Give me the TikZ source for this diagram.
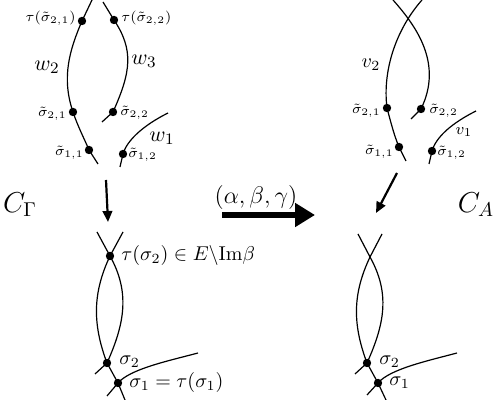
\documentclass[tikz,border=0pt]{standalone}
\usetikzlibrary{arrows.meta}
\begin{document}
\begin{tikzpicture}[x=0.5pt,y=0.5pt,
  crv/.style={line width=0.6pt},
  dot/.style={circle,fill=black,inner sep=0pt,minimum size=4.2pt},
  tinylbl/.style={font=\scriptsize,inner sep=0pt},
  taulbl/.style={font=\fontsize{7.5}{9}\selectfont,inner sep=0pt},
  wlbl/.style={font=\fontsize{11}{13}\selectfont,inner sep=0pt},
  lbl/.style={font=\normalsize,inner sep=0pt},
  biglbl/.style={font=\Large,inner sep=0pt},
  smallarrow/.style={line width=1.1pt,-{Triangle[length=5.5pt,width=4.8pt]}},
  bigarrow/.style={line width=3pt,-{Triangle[length=10pt,width=11.5pt]}}]
\useasboundingbox (0,0) rectangle (498,400);

% ---------- upper left ----------
\coordinate (w2a) at (92,400);
\coordinate (t21) at (82,379);
\coordinate (s21) at (73,288);
\coordinate (s11) at (89,250);
\coordinate (w2b) at (98,236);
\coordinate (w3a) at (103,398);
\coordinate (t22) at (114,380);
\coordinate (s22) at (113,288);
\coordinate (w3b) at (102,278);
\coordinate (w1a) at (168,287);
\coordinate (s12) at (123,246);
\coordinate (w1b) at (120,233);

\draw[crv] (w2a) -- (t21) .. controls +(-12,-28) and +(-12,35) .. (s21)
  .. controls +(5,-15) and +(-5,12) .. (s11) -- (w2b);
\draw[crv] (w3a) -- (t22) .. controls +(20,-30) and +(18,40) .. (s22) -- (w3b);
\draw[crv] (w1b) -- (s12) .. controls +(4,14) and +(-24,-12) .. (w1a);

\foreach \p in {t21,s21,s11,t22,s22,s12} \node[dot] (d\p) at (\p) {};

\node[taulbl,anchor=east] (lt21) at (76,382) {$\tau(\tilde\sigma_{2,1})$};
\node[taulbl,anchor=west] (lt22) at (121,382) {$\tau(\tilde\sigma_{2,2})$};
\node[wlbl] (lw2) at (47,333) {$w_2$};
\node[wlbl] (lw3) at (144,339) {$w_3$};
\node[tinylbl,anchor=east] (ls21) at (67,286) {$\tilde\sigma_{2,1}$};
\node[tinylbl,anchor=west] (ls22) at (120,287) {$\tilde\sigma_{2,2}$};
\node[tinylbl,anchor=east] (ls11) at (84,247) {$\tilde\sigma_{1,1}$};
\node[tinylbl,anchor=west] (ls12) at (128,245) {$\tilde\sigma_{1,2}$};
\node[wlbl] (lw1) at (162,262) {$w_1$};

% ---------- upper right ----------
\coordinate (v2a) at (422,400);
\coordinate (r21) at (387,292);
\coordinate (r11) at (399,253);
\coordinate (v2b) at (406,239);
\coordinate (v3a) at (393,400);
\coordinate (r22) at (421,291);
\coordinate (v3b) at (411,281);
\coordinate (v1a) at (476,289);
\coordinate (r12) at (432,249);
\coordinate (v1b) at (429,236);

\draw[crv] (v2a) .. controls +(-24,-27) and +(-5,40) .. (r21)
  .. controls +(4,-15) and +(-5,12) .. (r11) -- (v2b);
\draw[crv] (v3a) .. controls +(24,-27) and +(22,45) .. (r22) -- (v3b);
\draw[crv] (v1b) -- (r12) .. controls +(4,14) and +(-24,-12) .. (v1a);

\foreach \p in {r21,r11,r22,r12} \node[dot] (d\p) at (\p) {};

\node[lbl] (lv2) at (371,335) {$v_2$};
\node[tinylbl,anchor=east] (lr21) at (381,289) {$\tilde\sigma_{2,1}$};
\node[tinylbl,anchor=west] (lr22) at (429,289) {$\tilde\sigma_{2,2}$};
\node[tinylbl,anchor=east] (lr11) at (394,248) {$\tilde\sigma_{1,1}$};
\node[tinylbl,anchor=west] (lr12) at (437,247) {$\tilde\sigma_{1,2}$};
\node[font=\footnotesize,inner sep=0pt] (lv1) at (464,268) {$v_1$};

% ---------- middle ----------
\node[biglbl] (CG) at (20,195) {$C_\Gamma$};
\node[biglbl] (CA) at (476,195) {$C_A$};

\coordinate (dl1) at (106,220);
\coordinate (dl2) at (108,178);
\draw[smallarrow] (dl1) -- (dl2);
\coordinate (dr1) at (397,227);
\coordinate (dr2) at (376,187);
\draw[smallarrow] (dr1) -- (dr2);

\coordinate (b1) at (222,185);
\coordinate (b2) at (315,185);
\draw[bigarrow] (b1) -- (b2);
\node[font=\large,inner sep=0pt] (abg) at (256,202) {$(\alpha,\beta,\gamma)$};

% ---------- lower left ----------
\coordinate (la) at (97,168);
\coordinate (lb) at (123,168);
\coordinate (T) at (110,144);
\coordinate (S2) at (107,37);
\coordinate (S1) at (118,17);
\coordinate (lc) at (95,26);
\coordinate (ld) at (125,0);
\coordinate (le) at (198,47);
\coordinate (lf) at (107,4);

\draw[crv] (la) -- (T) .. controls +(20,-36) and +(18,40) .. (S2) -- (lc);
\draw[crv] (lb) -- (T) .. controls +(-17,-36) and +(-15,40) .. (S2) -- (S1) -- (ld);
\draw[crv] (lf) -- (S1) .. controls +(12,14) and +(-30,-8) .. (le);

\foreach \p in {T,S2,S1} \node[dot] (d\p) at (\p) {};

\node[lbl,anchor=west] (lT) at (121,144) {$\tau(\sigma_2)\in E\backslash\mathrm{Im}\beta$};
\node[lbl,anchor=west] (lS2) at (119,38) {$\sigma_2$};
\node[lbl,anchor=west] (lS1) at (129,17) {$\sigma_1=\tau(\sigma_1)$};

% ---------- lower right ----------
\coordinate (ra) at (358,166);
\coordinate (rb) at (382,166);
\coordinate (RT) at (370,143);
\coordinate (RS2) at (367,37);
\coordinate (RS1) at (378,17);
\coordinate (rc) at (355,26);
\coordinate (rd) at (386,0);
\coordinate (re) at (457,47);
\coordinate (rf) at (367,5);

\draw[crv] (ra) -- (RT) .. controls +(20,-36) and +(18,40) .. (RS2) -- (rc);
\draw[crv] (rb) -- (RT) .. controls +(-17,-36) and +(-15,40) .. (RS2) -- (RS1) -- (rd);
\draw[crv] (rf) -- (RS1) .. controls +(12,14) and +(-30,-8) .. (re);

\foreach \p in {RS2,RS1} \node[dot] (d\p) at (\p) {};

\node[lbl,anchor=west] (lRS2) at (379,38) {$\sigma_2$};
\node[lbl,anchor=west] (lRS1) at (389,17) {$\sigma_1$};
\end{tikzpicture}
\end{document}
